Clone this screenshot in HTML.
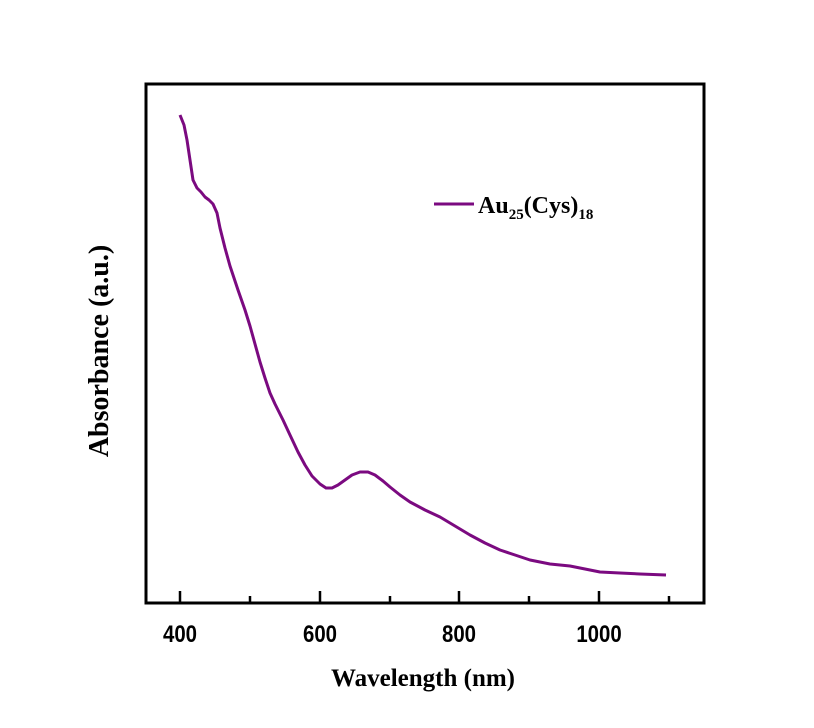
<!DOCTYPE html><html><head><style>body{margin:0;background:#fff}</style></head><body>
<svg width="814" height="723" xmlns="http://www.w3.org/2000/svg" font-family="Liberation Serif, serif" font-weight="bold">
<rect x="146" y="84" width="558" height="519" fill="none" stroke="#000" stroke-width="3"/>
<g stroke="#000" stroke-width="2.5">
<line x1="180" y1="603" x2="180" y2="591"/><line x1="250" y1="603" x2="250" y2="596"/>
<line x1="320" y1="603" x2="320" y2="591"/><line x1="390" y1="603" x2="390" y2="596"/>
<line x1="459" y1="603" x2="459" y2="591"/><line x1="529" y1="603" x2="529" y2="596"/>
<line x1="599" y1="603" x2="599" y2="591"/><line x1="669" y1="603" x2="669" y2="596"/>
</g>
<g font-family="Liberation Sans, sans-serif" font-size="24" text-anchor="middle">
<text transform="translate(180,642) scale(0.85,1)">400</text><text transform="translate(320,642) scale(0.85,1)">600</text><text transform="translate(459,642) scale(0.85,1)">800</text><text transform="translate(599,642) scale(0.85,1)">1000</text>
</g>
<text x="423" y="686" font-size="25" text-anchor="middle">Wavelength (nm)</text>
<text transform="translate(108,351) rotate(-90)" font-size="28" text-anchor="middle">Absorbance (a.u.)</text>
<polyline fill="none" stroke="#7b0a80" stroke-width="3" stroke-linejoin="round" points="180,115 184,125 187,140 190,160 193,180 197,188 201,192 205,197 209,200 213,204 217,213 220,228 225,248 230,266 238,290 245,310 250,326 255,344 260,362 265,378 270,393 275,404 283,420 290,435 298,452 305,465 312,476 320,484 326,488 332,488 338,485 345,480 352,475 360,472 368,472 375,475 383,481 390,487 400,495 410,502 425,510 440,517 455,526 470,535 485,543 500,550 515,555 530,560 550,564 570,566 585,569 600,572 620,573 640,574 666,575"/>
<line x1="434" y1="204" x2="474" y2="204" stroke="#7b0a80" stroke-width="3"/>
<text x="478" y="213" font-size="24">Au<tspan font-size="15" dy="6">25</tspan><tspan dy="-6">(Cys)</tspan><tspan font-size="15" dy="6">18</tspan></text>
</svg></body></html>
